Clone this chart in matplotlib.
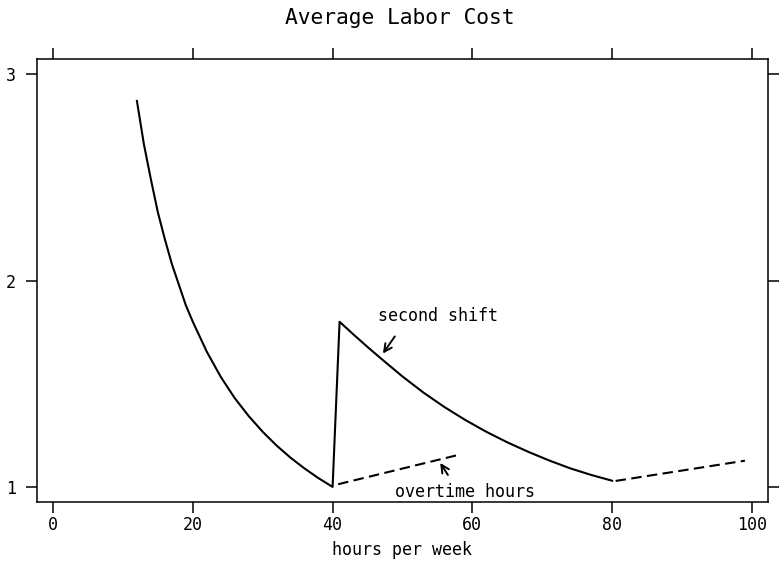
import matplotlib
matplotlib.use('Agg')
import matplotlib.pyplot as plt

# regular hours then second shift (one solid line)
hours_regular = [12, 13, 14, 15, 16, 17, 18, 19, 20, 22, 24, 26, 28, 30, 32, 34, 36, 38, 40]
cost_regular = [2.87, 2.66, 2.49, 2.33, 2.20, 2.08, 1.98, 1.88, 1.80, 1.655, 1.533, 1.43,
                1.343, 1.267, 1.20, 1.141, 1.089, 1.042, 1.00]
hours_second = [41, 43, 45, 47, 50, 53, 56, 59, 62, 65, 68, 71, 74, 77, 80]
cost_second = [1.80, 1.738, 1.678, 1.62, 1.535, 1.457, 1.387, 1.324, 1.267, 1.216, 1.17,
               1.128, 1.09, 1.058, 1.03]

# overtime (dashed)
hours_ot1 = [40.8, 58]
cost_ot1 = [1.013, 1.155]
hours_ot2 = [80.5, 99]
cost_ot2 = [1.029, 1.127]

xticks = [0, 20, 40, 60, 80, 100]
yticks = [1, 2, 3]

plt.rcParams['font.family'] = 'DejaVu Sans Mono'

fig = plt.figure(figsize=(7.8, 5.61), dpi=100)
ax = fig.add_axes([0.0474, 0.1052, 0.9372, 0.7896])

ax.plot(hours_regular + hours_second, cost_regular + cost_second,
        color='black', lw=1.5)
ax.plot(hours_ot1, cost_ot1, color='black', lw=1.5, dashes=(5, 2.6))
ax.plot(hours_ot2, cost_ot2, color='black', lw=1.5, dashes=(5, 2.6))

arrow = dict(arrowstyle='->', color='black', lw=1.4, shrinkA=0, shrinkB=0,
             mutation_scale=14)
ax.text(46.5, 1.826, 'second shift', fontsize=12, ha='left', va='center')
ax.annotate('', xy=(47.2, 1.646), xytext=(48.9, 1.729), arrowprops=arrow)
ax.text(49.0, 0.976, 'overtime hours', fontsize=12, ha='left', va='center')
ax.annotate('', xy=(55.4, 1.116), xytext=(56.5, 1.058), arrowprops=arrow)

ax.set_xlim(-2.3, 102.3)
ax.set_ylim(0.927, 3.073)
ax.set_xticks(xticks)
ax.set_yticks(yticks)
ax.tick_params(direction='out', length=8, width=1.1, labelsize=12,
               top=True, right=True, labeltop=False, labelright=False)
ax.tick_params(axis='y', pad=7)
ax.tick_params(axis='x', pad=2)
for s in ax.spines.values():
    s.set_linewidth(1.1)

ax.set_xlabel('hours per week', fontsize=12, labelpad=5)
fig.suptitle('Average Labor Cost', fontsize=15.3, x=0.513, y=0.985)

fig.savefig('out.png', dpi=100)
